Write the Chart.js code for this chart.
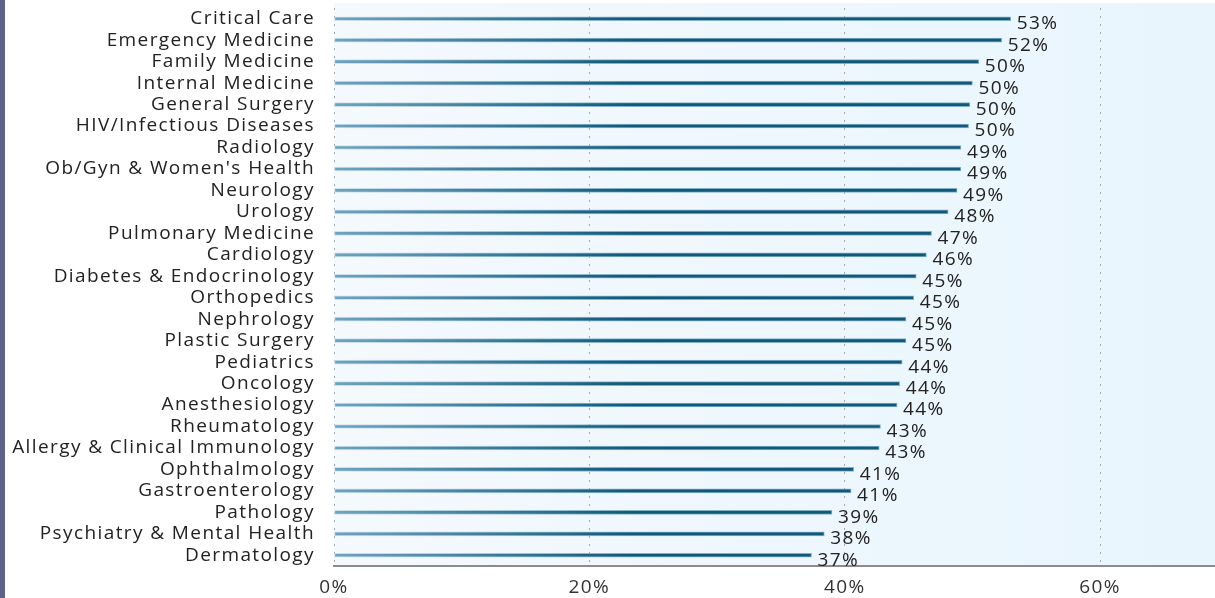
<!DOCTYPE html>
<html><head><meta charset="UTF-8">
<title>Specialty share</title>
<script src="https://cdn.jsdelivr.net/npm/chart.js"></script>
<style>
  html, body { margin: 0; padding: 0; background: #ffffff; }
  #wrap { width: 1215px; height: 598px; }
</style></head>
<body>
<div id="wrap"><canvas id="chart" width="1215" height="598"></canvas></div>
<script>
const specialties = ['Critical Care', 'Emergency Medicine', 'Family Medicine', 'Internal Medicine',
  'General Surgery', 'HIV/Infectious Diseases', 'Radiology', "Ob/Gyn & Women's Health", 'Neurology',
  'Urology', 'Pulmonary Medicine', 'Cardiology', 'Diabetes & Endocrinology', 'Orthopedics',
  'Nephrology', 'Plastic Surgery', 'Pediatrics', 'Oncology', 'Anesthesiology', 'Rheumatology',
  'Allergy & Clinical Immunology', 'Ophthalmology', 'Gastroenterology', 'Pathology',
  'Psychiatry & Mental Health', 'Dermatology'];
// bar lengths
const shares = [53.0, 52.3, 50.5, 50.0, 49.8, 49.7, 49.1, 49.1, 48.8, 48.1, 46.8, 46.4, 45.6, 45.4,
  44.8, 44.8, 44.5, 44.3, 44.1, 42.8, 42.7, 40.7, 40.5, 39.0, 38.4, 37.4];
// printed labels
const shareLabels = ['53%', '52%', '50%', '50%', '50%', '50%', '49%', '49%', '49%', '48%', '47%', '46%',
  '45%', '45%', '45%', '45%', '44%', '44%', '44%', '43%', '43%', '41%', '41%', '39%', '38%', '37%'];
const xTicks = [0, 20, 40, 60];

const FONT = '"Open Sans", Lato, sans-serif';

const backdrop = {
  id: 'backdrop',
  beforeDraw(chart) {
    const { ctx, chartArea: a } = chart;
    ctx.fillStyle = '#ffffff';
    ctx.fillRect(0, 0, chart.width, chart.height);
    ctx.fillStyle = '#5d6385';
    ctx.fillRect(0, 0, 5, chart.height);
    const g = ctx.createLinearGradient(a.left, 0, a.right, 0);
    g.addColorStop(0, '#f4f9fd');
    g.addColorStop(1, '#e8f5fd');
    ctx.fillStyle = g;
    ctx.fillRect(a.left, a.top - 5, a.right - a.left, a.bottom - a.top + 5);
    // wider text like the original face
    ctx.letterSpacing = '1.4px';
  }
};

const endLabels = {
  id: 'endLabels',
  afterDatasetsDraw(chart) {
    const { ctx } = chart;
    ctx.save();
    ctx.font = '19px ' + FONT;
    ctx.fillStyle = '#222222';
    ctx.textAlign = 'left';
    ctx.textBaseline = 'middle';
    chart.getDatasetMeta(0).data.forEach((bar, i) => {
      ctx.fillText(shareLabels[i], bar.x + 6, bar.y + 5);
    });
    ctx.restore();
  }
};

function barGradient(ctx, dark) {
  const a = ctx.chart.chartArea;
  if (!a) return dark ? '#155b7f' : '#9cc3d6';
  const g = ctx.chart.ctx.createLinearGradient(a.left, 0, a.left + 300, 0);
  if (dark) {
    g.addColorStop(0, '#6fa3bf');
    g.addColorStop(1, '#115879');
  } else {
    g.addColorStop(0, '#cfe3ee');
    g.addColorStop(1, '#7fb1ca');
  }
  return g;
}

new Chart(document.getElementById('chart').getContext('2d'), {
  type: 'bar',
  data: {
    labels: specialties,
    datasets: [{
      data: shares,
      backgroundColor: ctx => barGradient(ctx, true),
      borderColor: ctx => barGradient(ctx, false),
      borderWidth: 1,
      borderSkipped: false,
      barThickness: 4
    }]
  },
  options: {
    indexAxis: 'y',
    responsive: false,
    animation: false,
    layout: { padding: { top: 8, right: 0, bottom: 0, left: 0 } },
    plugins: { legend: { display: false }, tooltip: { enabled: false } },
    scales: {
      x: {
        min: 0,
        max: 69,
        afterFit: s => { s.height = 32; s.paddingLeft = 0; s.paddingRight = 0; },
        afterBuildTicks: s => { s.ticks = xTicks.map(v => ({ value: v })); },
        ticks: {
          includeBounds: false,
          color: '#333333',
          font: { family: FONT, size: 19 },
          padding: 10,
          callback: v => v + '%'
        },
        grid: { color: '#a8a8a8', lineWidth: 1, drawTicks: false },
        border: { display: true, color: '#8c8c8c', width: 2, dash: [2, 6] }
      },
      y: {
        afterFit: s => { s.width = 334; s.paddingTop = 0; s.paddingBottom = 0; },
        ticks: {
          color: '#222222',
          font: { family: FONT, size: 19 },
          padding: 19,
          autoSkip: false
        },
        grid: { display: false, drawTicks: false },
        border: { display: false }
      }
    }
  },
  plugins: [backdrop, endLabels]
});
</script>
</body></html>
